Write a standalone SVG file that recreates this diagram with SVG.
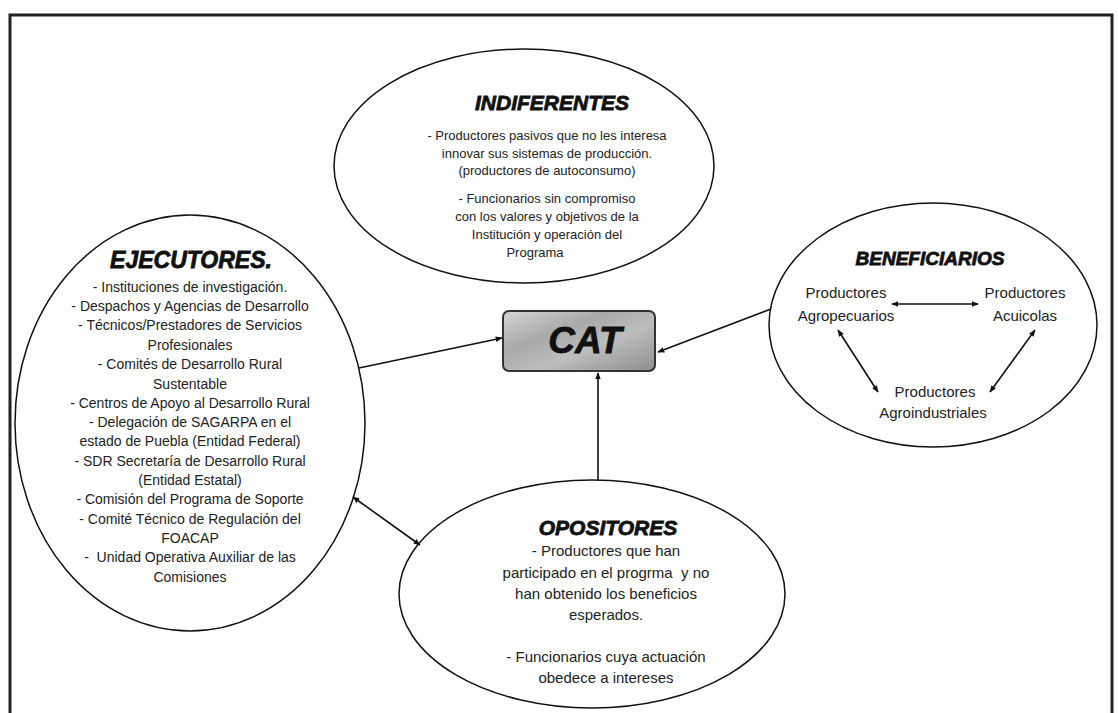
<svg xmlns="http://www.w3.org/2000/svg" width="1118" height="713" viewBox="0 0 1118 713">
<defs>
<style>
.ell{fill:#fff;stroke:#111;stroke-width:1.5}
.ttl{font-family:"Liberation Sans",Arial,sans-serif;font-weight:bold;font-style:italic;fill:#111;stroke:#111;stroke-width:0.8;text-anchor:middle}
.b13{font-family:"Liberation Sans",Arial,sans-serif;font-size:13px;fill:#222;text-anchor:middle}
.b14{font-family:"Liberation Sans",Arial,sans-serif;font-size:14px;fill:#222;text-anchor:middle}
.b15{font-family:"Liberation Sans",Arial,sans-serif;font-size:15px;fill:#222;text-anchor:middle}
.con{fill:none;stroke:#111;stroke-width:1.6}
</style>
<marker id="ah" viewBox="0 0 10 10" refX="9" refY="5" markerWidth="7" markerHeight="7" orient="auto-start-reverse" markerUnits="userSpaceOnUse">
<path d="M0,1 L10,5 L0,9 z" fill="#111"/>
</marker>
<linearGradient id="catg" x1="0" y1="0" x2="1" y2="1">
<stop offset="0" stop-color="#d4d4d4"/>
<stop offset="0.35" stop-color="#a9a9a9"/>
<stop offset="0.6" stop-color="#bdbdbd"/>
<stop offset="1" stop-color="#8e8e8e"/>
</linearGradient>
</defs>
<rect width="1118" height="713" fill="#fff"/>
<g id="frame">
<path d="M10,720 L10,15 L1112,15 L1112,720" fill="none" stroke="#222" stroke-width="3"/>
</g>
<g id="indiferentes">
<ellipse class="ell" cx="524" cy="166" rx="190" ry="117"/>
<text class="ttl" x="552" y="110" font-size="21">INDIFERENTES</text>
<text class="b13" x="547" y="140">- Productores pasivos que no les interesa</text>
<text class="b13" x="547" y="158">innovar sus sistemas de producción.</text>
<text class="b13" x="547" y="175">(productores de autoconsumo)</text>
<text class="b13" x="547" y="203">- Funcionarios sin compromiso</text>
<text class="b13" x="547" y="221">con los valores y objetivos de la</text>
<text class="b13" x="547" y="239">Institución y operación del</text>
<text class="b13" x="535" y="257">Programa</text>
</g>
<g id="ejecutores">
<ellipse class="ell" cx="190" cy="423" rx="175" ry="208"/>
<text class="ttl" x="191" y="268" font-size="23">EJECUTORES.</text>
<text class="b14" x="190" y="292">- Instituciones de investigación.</text>
<text class="b14" x="190" y="311">- Despachos y Agencias de Desarrollo</text>
<text class="b14" x="190" y="330">- Técnicos/Prestadores de Servicios</text>
<text class="b14" x="190" y="350">Profesionales</text>
<text class="b14" x="190" y="369">- Comités de Desarrollo Rural</text>
<text class="b14" x="190" y="389">Sustentable</text>
<text class="b14" x="190" y="408">- Centros de Apoyo al Desarrollo Rural</text>
<text class="b14" x="190" y="427">- Delegación de SAGARPA en el</text>
<text class="b14" x="190" y="446">estado de Puebla (Entidad Federal)</text>
<text class="b14" x="190" y="466">- SDR Secretaría de Desarrollo Rural</text>
<text class="b14" x="190" y="485">(Entidad Estatal)</text>
<text class="b14" x="190" y="504">- Comisión del Programa de Soporte</text>
<text class="b14" x="190" y="524">- Comité Técnico de Regulación del</text>
<text class="b14" x="190" y="543">FOACAP</text>
<text class="b14" x="190" y="562">-&#160; Unidad Operativa Auxiliar de las</text>
<text class="b14" x="190" y="582">Comisiones</text>
</g>
<g id="cat">
<rect x="503" y="311" width="152" height="60" rx="6" fill="url(#catg)" stroke="#333" stroke-width="2"/>
<text class="ttl" x="585" y="353" font-size="37">CAT</text>
</g>
<g id="beneficiarios">
<ellipse class="ell" cx="933" cy="325" rx="164" ry="122"/>
<text class="ttl" x="930" y="265" font-size="19">BENEFICIARIOS</text>
<text class="b15" x="846" y="298">Productores</text>
<text class="b15" x="846" y="321">Agropecuarios</text>
<text class="b15" x="1025" y="298">Productores</text>
<text class="b15" x="1025" y="321">Acuicolas</text>
<text class="b15" x="935" y="397">Productores</text>
<text class="b15" x="933" y="418">Agroindustriales</text>
</g>
<g id="opositores">
<ellipse class="ell" cx="592" cy="594" rx="193" ry="114"/>
<text class="ttl" x="608" y="535" font-size="21">OPOSITORES</text>
<text class="b15" x="606" y="556">- Productores que han</text>
<text class="b15" x="606" y="578">participado en el progrma&#160; y no</text>
<text class="b15" x="606" y="599">han obtenido los beneficios</text>
<text class="b15" x="606" y="620">esperados.</text>
<text class="b15" x="606" y="662">- Funcionarios cuya actuación</text>
<text class="b15" x="606" y="683">obedece a intereses</text>
</g>
<g id="connectors">
<line class="con" x1="359" y1="368" x2="502" y2="338" marker-end="url(#ah)"/>
<line class="con" x1="771" y1="309" x2="658" y2="352" marker-end="url(#ah)"/>
<line class="con" x1="598" y1="480" x2="598" y2="373" marker-end="url(#ah)"/>
<line class="con" x1="353" y1="497" x2="420" y2="545" marker-start="url(#ah)" marker-end="url(#ah)"/>
<line class="con" x1="892" y1="304" x2="978" y2="304" marker-start="url(#ah)" marker-end="url(#ah)"/>
<line class="con" x1="838" y1="330" x2="878" y2="392" marker-start="url(#ah)" marker-end="url(#ah)"/>
<line class="con" x1="1035" y1="330" x2="990" y2="392" marker-start="url(#ah)" marker-end="url(#ah)"/>
</g>
</svg>
